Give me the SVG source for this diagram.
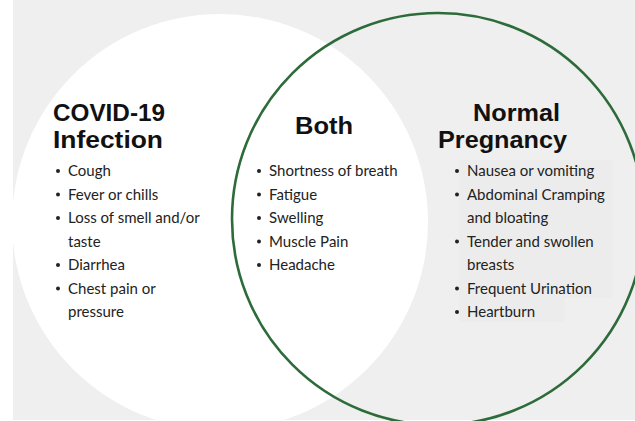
<svg xmlns="http://www.w3.org/2000/svg" width="635" height="421" viewBox="0 0 635 421">
<style>
.h{font-family:"Liberation Sans",Arial,sans-serif;font-weight:700;font-size:23px;fill:#111111}
.t{font-family:Lato,"Liberation Sans",sans-serif;font-size:15px;fill:#222222}
.b{fill:#222222}
</style>
<defs>
<circle id="dot" r="2" class="b"/>
</defs>
<rect x="0" y="0" width="635" height="421" fill="#ffffff"/>
<rect x="13" y="0" width="622" height="420" fill="#efefef"/>
<g id="covid-circle">
<circle cx="220" cy="222" r="208" fill="#ffffff"/>
</g>
<g id="pregnancy-box">
<rect x="459" y="160" width="154" height="138" fill="#ececec"/>
<rect x="459" y="298" width="106" height="24" fill="#ececec"/>
</g>
<g id="pregnancy-circle">
<circle cx="438" cy="219" r="206" fill="none" stroke="#2e6b3b" stroke-width="2.6"/>
</g>
<g id="connectors"></g>
<g id="covid">
<text class="h" x="53" y="121" textLength="112" lengthAdjust="spacingAndGlyphs">COVID-19</text>
<text class="h" x="53" y="148" textLength="110" lengthAdjust="spacingAndGlyphs">Infection</text>
<use href="#dot" x="58" y="171"/><text class="t" x="68" y="176">Cough</text>
<use href="#dot" x="58" y="194.5"/><text class="t" x="68" y="199.5">Fever or chills</text>
<use href="#dot" x="58" y="218"/><text class="t" x="68" y="223">Loss of smell and/or</text>
<text class="t" x="68" y="246.5">taste</text>
<use href="#dot" x="58" y="265"/><text class="t" x="68" y="270">Diarrhea</text>
<use href="#dot" x="58" y="288.5"/><text class="t" x="68" y="293.5">Chest pain or</text>
<text class="t" x="68" y="317">pressure</text>
</g>
<g id="both">
<text class="h" x="295" y="134" textLength="58" lengthAdjust="spacingAndGlyphs">Both</text>
<use href="#dot" x="259" y="171"/><text class="t" x="269" y="176">Shortness of breath</text>
<use href="#dot" x="259" y="194.5"/><text class="t" x="269" y="199.5">Fatigue</text>
<use href="#dot" x="259" y="218"/><text class="t" x="269" y="223">Swelling</text>
<use href="#dot" x="259" y="241.5"/><text class="t" x="269" y="246.5">Muscle Pain</text>
<use href="#dot" x="259" y="265"/><text class="t" x="269" y="270">Headache</text>
</g>
<g id="pregnancy">
<text class="h" x="473" y="121" textLength="87" lengthAdjust="spacingAndGlyphs">Normal</text>
<text class="h" x="438" y="148" textLength="129" lengthAdjust="spacingAndGlyphs">Pregnancy</text>
<use href="#dot" x="457" y="171"/><text class="t" x="467" y="176">Nausea or vomiting</text>
<use href="#dot" x="457" y="194.5"/><text class="t" x="467" y="199.5">Abdominal Cramping</text>
<text class="t" x="467" y="223">and bloating</text>
<use href="#dot" x="457" y="241.5"/><text class="t" x="467" y="246.5">Tender and swollen</text>
<text class="t" x="467" y="270">breasts</text>
<use href="#dot" x="457" y="288.5"/><text class="t" x="467" y="293.5">Frequent Urination</text>
<use href="#dot" x="457" y="312"/><text class="t" x="467" y="317">Heartburn</text>
</g>
</svg>
